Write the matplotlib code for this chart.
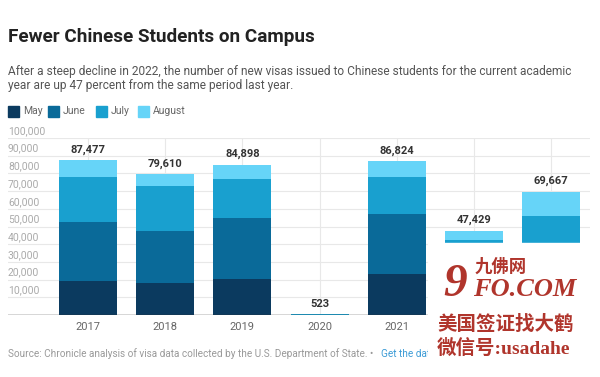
import numpy as np
import matplotlib.pyplot as plt
from matplotlib.patches import Rectangle
import matplotlib.transforms as mtransforms

years = ['2017', '2018', '2019', '2020', '2021', '2022', '2023']
totals = [87477, 79610, 84898, 523, 86824, 47429, 69667]
may = [19200, 18300, 20500, 80, 23200, 5000, 12000]
june = [33300, 29300, 34500, 150, 33700, 15000, 24000]
july = [25600, 25300, 21700, 190, 21200, 22400, 19900]
august = [9377, 6710, 8198, 103, 8724, 5029, 13767]
months = ['May', 'June', 'July', 'August']
colors = ['#0b3a5f', '#0a6a99', '#19a0cf', '#66d4f8']
yticks = [10000, 20000, 30000, 40000, 50000, 60000, 70000, 80000, 90000, 100000]

plt.rcParams['font.family'] = ['Roboto', 'DejaVu Sans']

W, H = 600, 377
fig = plt.figure(figsize=(6, 3.77), dpi=100)
ax = fig.add_axes([8 / W, (H - 315) / H, 582 / W, 177 / H])

x = np.arange(len(years))
bottom = np.zeros(len(years))
for vals, name, c in zip([may, june, july, august], months, colors):
    ax.bar(x, vals, width=0.75, bottom=bottom, color=c, label=name, zorder=3)
    bottom += np.array(vals)

for xi, t in zip(x, totals):
    ax.annotate(f'{t:,}', (xi, t), xytext=(0, 4), textcoords='offset points',
                ha='center', va='bottom', fontsize=8, fontweight='bold', color='#333333')

ax.set_xlim(-1.036, 6.503)
ax.set_ylim(0, 100000)
ax.set_yticks(yticks)
ax.set_yticklabels([])
ax.tick_params(axis='y', length=0)
trans = mtransforms.blended_transform_factory(ax.transAxes, ax.transData)
for v in yticks:
    ax.annotate(f'{v:,}', (0, v), xycoords=trans, xytext=(0, 1.5), textcoords='offset points',
                ha='left', va='bottom', fontsize=7.5, color='#aaaaaa')
ax.set_xticks(x)
ax.set_xticklabels(years, fontsize=8, color='#666666')
ax.tick_params(axis='x', length=0, pad=5)
# the last two year labels sit under the watermark box
for lab in ax.get_xticklabels()[5:]:
    lab.set_visible(False)
ax.grid(True, color='#e8e8e8', linewidth=0.8, zorder=0)
for s in ax.spines.values():
    s.set_visible(False)
ax.axhline(0, color='#333333', linewidth=1, zorder=4)

fig.text(8 / W, 1 - 37 / H, 'Fewer Chinese Students on Campus', fontsize=13.6,
         fontweight='bold', color='#222222', va='center')
fig.text(8 / W, 1 - 71 / H, 'After a steep decline in 2022, the number of new visas issued to Chinese '
         'students for the current academic', fontsize=8.6, color='#555555', va='center')
fig.text(8 / W, 1 - 85 / H, 'year are up 47 percent from the same period last year.',
         fontsize=8.6, color='#555555', va='center')

# legend
lx = [8, 48, 96, 138]
for px, name, c in zip(lx, months, colors):
    fig.add_artist(Rectangle((px / W, 1 - 116.5 / H), 10.5 / W, 10.5 / H, color=c,
                             transform=fig.transFigure))
    fig.text((px + 15) / W, 1 - 111.5 / H, name, fontsize=7.5, color='#666666', va='center')

fig.text(8 / W, 1 - 354 / H, 'Source: Chronicle analysis of visa data collected by the U.S. '
         'Department of State. \u2022', fontsize=7.2, color='#999999', va='center')
fig.text(381 / W, 1 - 354 / H, 'Get the data', fontsize=7.2, color='#3b9bd6', va='center')

# watermark overlay
fig.add_artist(Rectangle((428 / W, 0), 172 / W, (H - 243) / H, color='white',
                         transform=fig.transFigure, zorder=10))
red = '#b0352c'
fig.text(443 / W, 1 - 296 / H, '9', fontsize=34, fontweight='bold', style='italic',
         family='Liberation Serif', color=red, zorder=11)
fig.text(473 / W, 1 - 296 / H, 'FO.COM', fontsize=19, fontweight='bold', style='italic',
         family='Liberation Serif', color=red, zorder=11)
fig.text(475 / W, 1 - 267 / H, '九佛网', fontsize=12.5, fontweight='bold',
         family=['Noto Sans CJK SC'], color=red, zorder=11, va='center')
fig.text(437 / W, 1 - 324 / H, '美国签证找大鹤', fontsize=14, fontweight='bold',
         family=['Noto Sans CJK SC'], color=red, zorder=11, va='center')
fig.text(437 / W, 1 - 348 / H, '微信号:usadahe', fontsize=14, fontweight='bold',
         family=['Liberation Serif', 'Noto Sans CJK SC'], color=red, zorder=11, va='center')

fig.savefig('out.png', dpi=100)
